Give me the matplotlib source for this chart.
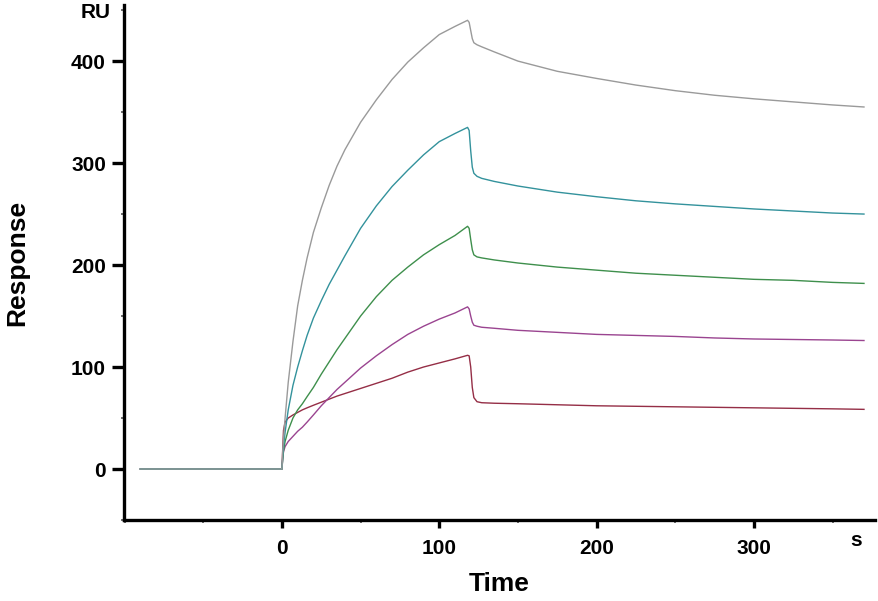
import matplotlib
matplotlib.use("Agg")
import matplotlib.pyplot as plt
from matplotlib.ticker import MultipleLocator

# Shared time grid (s)
time_s = [-90, 0, 0.5, 1, 2, 4, 7, 10, 13, 16,
          20, 25, 30, 35, 40, 50, 60, 70, 80, 90,
          100, 110, 118, 119, 120, 121, 122, 124, 127, 135,
          150, 175, 200, 225, 250, 275, 300, 325, 350, 370]

grey = [0, 0, 18, 30, 50, 85, 125, 160, 185, 207,
        232, 256, 278, 297, 313, 340, 362, 382, 399, 413,
        426, 434, 440, 438, 430, 422, 418, 416, 414, 409,
        400, 390, 383, 376.5, 371, 366.5, 363, 360, 357, 355]

teal = [0, 0, 12, 22, 36, 58, 82, 100, 116, 131,
        148, 165, 181, 195, 209, 236, 258, 277, 293, 308,
        321, 329, 335, 332, 312, 296, 290, 287, 285, 282,
        277.5, 271.5, 267, 263, 260, 257.5, 255, 253, 251, 250]

green = [0, 0, 10, 18, 27, 38, 50, 58, 64, 71,
         80, 93, 105, 117, 128, 150, 169, 185, 198, 210,
         220, 229, 238, 236, 225, 215, 210, 208, 207, 205,
         202, 198, 195, 192, 190, 188, 186, 185, 183, 182]

purple = [0, 0, 10, 17, 22, 27, 32, 37, 41, 46,
          53, 62, 70, 78, 85, 99, 111, 122, 132, 140,
          147, 153, 159, 157, 150, 144, 141, 140, 139, 138,
          136, 134, 132, 131, 130, 128.5, 127.5, 127, 126.5, 126]

red = [0, 0, 20, 38, 46, 50, 53, 55.5, 58, 60,
       62.5, 65.5, 68.5, 71.5, 74, 79, 84, 89, 95, 100,
       104, 108, 111.5, 111, 100, 80, 70, 66, 65, 64.5,
       64, 63, 62, 61.5, 61, 60.5, 60, 59.5, 59, 58.5]

x_ticks = [0, 100, 200, 300]
y_ticks = [0, 100, 200, 300, 400]

series = [(red, "#952e46"), (purple, "#9a4490"), (green, "#3e8f4c"),
          (teal, "#33929c"), (grey, "#9a9a9a")]

fig = plt.figure(figsize=(8.79, 6.01), dpi=100)
ax = fig.add_axes([124/879, 1-520/601, (875-124)/879, (520-5)/601])

for vals, col in series:
    ax.plot(time_s, vals, color=col, lw=1.0)

ax.set_xlim(-100.4, 377)
ax.set_ylim(-50, 455)

for s in ["top", "right"]:
    ax.spines[s].set_visible(False)
for s in ["left", "bottom"]:
    ax.spines[s].set_linewidth(2.4)
    ax.spines[s].set_color("black")

ax.set_xticks(x_ticks)
ax.set_yticks(y_ticks)
ax.xaxis.set_minor_locator(MultipleLocator(50))
ax.yaxis.set_minor_locator(MultipleLocator(50))
ax.tick_params(which="major", direction="out", length=6, width=2.4, pad=8)
ax.tick_params(axis="y", which="major", length=9, pad=4)
ax.tick_params(which="minor", direction="out", length=2, width=1.2, color="#555555")

fp = dict(family="Liberation Sans", weight="bold", size=15)
for lab in ax.get_xticklabels() + ax.get_yticklabels():
    lab.set_fontfamily("Liberation Sans")
    lab.set_fontweight("bold")
    lab.set_fontsize(15)

ax.set_xlabel("Time", family="Liberation Sans", weight="bold", size=19, labelpad=10)
ax.set_ylabel("Response", family="Liberation Sans", weight="bold", size=19, labelpad=30)

fig.text(96/879, 1-13/601, "RU", ha="center", va="center", **fp)
fig.text(856/879, 1-541/601, "s", ha="center", va="center", **fp)

fig.savefig("out.png", dpi=100)
